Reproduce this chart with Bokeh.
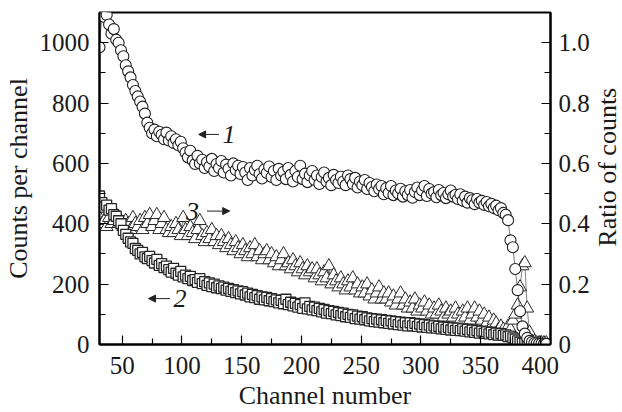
import math
from bokeh.plotting import figure
from bokeh.layouts import row
from bokeh.models import (Range1d, LinearAxis, FixedTicker, Label, Arrow, NormalHead,
                          PrintfTickFormatter)
from bokeh.core.properties import value
from bokeh.embed import file_html
from bokeh.resources import INLINE

channels = [31, 33, 35, 37, 39, 41, 43, 45, 47, 49,
            51, 53, 55, 57, 59, 61, 63, 65, 67, 69,
            71, 73, 75, 77, 79, 81, 83, 85, 87, 89,
            91, 93, 95, 97, 99, 101, 103, 105, 107, 109,
            111, 113, 115, 117, 119, 121, 123, 125, 127, 129,
            131, 133, 135, 137, 139, 141, 143, 145, 147, 149,
            151, 153, 155, 157, 159, 161, 163, 165, 167, 169,
            171, 173, 175, 177, 179, 181, 183, 185, 187, 189,
            191, 193, 195, 197, 199, 201, 203, 205, 207, 209,
            211, 213, 215, 217, 219, 221, 223, 225, 227, 229,
            231, 233, 235, 237, 239, 241, 243, 245, 247, 249,
            251, 253, 255, 257, 259, 261, 263, 265, 267, 269,
            271, 273, 275, 277, 279, 281, 283, 285, 287, 289,
            291, 293, 295, 297, 299, 301, 303, 305, 307, 309,
            311, 313, 315, 317, 319, 321, 323, 325, 327, 329,
            331, 333, 335, 337, 339, 341, 343, 345, 347, 349,
            351, 353, 355, 357, 359, 361, 363, 365, 367, 369,
            371, 373, 375, 377, 379, 381, 383, 385, 387, 389,
            391, 393, 395, 397, 399, 401, 403, 405]

counts_1 = [985, 1095, 1085, 1092, 1060, 1030, 1045, 1010, 1000, 975,
            955, 925, 905, 885, 860, 840, 822, 805, 788, 765,
            735, 718, 700, 712, 690, 705, 695, 680, 702, 676,
            690, 668, 680, 660, 672, 650, 636, 620, 642, 610,
            598, 625, 600, 612, 585, 604, 590, 615, 575, 598,
            585, 608, 570, 596, 582, 560, 600, 578, 592, 565,
            588, 570, 545, 585, 560, 578, 592, 565, 550, 580,
            568, 590, 555, 575, 545, 582, 560, 572, 548, 585,
            562, 540, 575, 555, 592, 548, 566, 538, 560, 575,
            545, 560, 532, 555, 570, 540, 552, 528, 562, 545,
            535, 556, 540, 528, 560, 548, 532, 552, 520, 540,
            528, 545, 515, 535, 522, 508, 530, 515, 525, 498,
            518, 502, 525, 495, 510, 500, 516, 490, 508, 495,
            512, 486, 505, 520, 495, 510, 525, 492, 515, 500,
            505, 488, 512, 495, 502, 485, 498, 510, 490, 496,
            482, 498, 476, 490, 470, 485, 478, 465, 482, 470,
            476, 462, 472, 458, 466, 452, 460, 445, 452, 436,
            430, 412, 345, 322, 250, 180, 110, 60, 36, 22,
            12, 8, 5, 4, 3, 3, 2, 2]

counts_2 = [492, 470, 455, 462, 445, 450, 430, 425, 410, 400,
            378, 365, 352, 340, 335, 318, 312, 300, 305, 290,
            285, 292, 278, 270, 282, 262, 268, 255, 260, 248,
            240, 252, 236, 230, 242, 224, 230, 218, 226, 212,
            215, 206, 218, 202, 208, 196, 204, 192, 200, 188,
            194, 185, 190, 180, 186, 176, 182, 172, 178, 168,
            175, 164, 170, 158, 166, 155, 162, 150, 158, 148,
            156, 145, 152, 142, 148, 138, 146, 135, 150, 132,
            140, 128, 136, 124, 132, 120, 138, 118, 126, 115,
            124, 112, 120, 108, 116, 104, 112, 102, 110, 98,
            106, 96, 104, 92, 100, 90, 98, 86, 94, 84,
            92, 82, 88, 78, 86, 76, 84, 74, 82, 72,
            80, 70, 78, 68, 76, 66, 74, 64, 72, 62,
            72, 62, 70, 60, 68, 58, 66, 57, 64, 55,
            62, 54, 60, 52, 58, 50, 57, 48, 55, 47,
            54, 46, 52, 44, 50, 42, 48, 40, 46, 38,
            44, 37, 42, 35, 40, 33, 38, 31, 36, 30,
            32, 26, 28, 22, 18, 12, 8, 5, 4, 3,
            3, 2, 2, 2, 1, 1, 1, 1]

ratio_3 = [0.42, 0.40, 0.41, 0.39, 0.42, 0.40, 0.41, 0.43, 0.40, 0.41,
           0.39, 0.41, 0.40, 0.38, 0.42, 0.40, 0.39, 0.41, 0.38, 0.42,
           0.40, 0.43, 0.39, 0.41, 0.43, 0.38, 0.40, 0.42, 0.38, 0.37,
           0.39, 0.37, 0.40, 0.38, 0.36, 0.42, 0.38, 0.36, 0.39, 0.37,
           0.35, 0.38, 0.41, 0.36, 0.34, 0.37, 0.35, 0.38, 0.34, 0.36,
           0.33, 0.36, 0.34, 0.32, 0.35, 0.33, 0.31, 0.34, 0.32, 0.30,
           0.33, 0.31, 0.29, 0.32, 0.30, 0.33, 0.29, 0.31, 0.28, 0.30,
           0.31, 0.28, 0.30, 0.27, 0.29, 0.26, 0.28, 0.30, 0.26, 0.27,
           0.25, 0.28, 0.26, 0.24, 0.27, 0.25, 0.23, 0.26, 0.24, 0.25,
           0.22, 0.25, 0.23, 0.21, 0.24, 0.22, 0.26, 0.20, 0.23, 0.21,
           0.19, 0.22, 0.20, 0.18, 0.21, 0.19, 0.22, 0.18, 0.20, 0.17,
           0.19, 0.17, 0.20, 0.16, 0.18, 0.15, 0.17, 0.19, 0.15, 0.17,
           0.15, 0.17, 0.14, 0.16, 0.13, 0.15, 0.17, 0.13, 0.15, 0.12,
           0.14, 0.12, 0.15, 0.11, 0.13, 0.12, 0.14, 0.11, 0.13, 0.10,
           0.12, 0.10, 0.13, 0.11, 0.09, 0.12, 0.10, 0.11, 0.09, 0.12,
           0.10, 0.08, 0.11, 0.09, 0.12, 0.08, 0.10, 0.12, 0.09, 0.11,
           0.08, 0.10, 0.07, 0.09, 0.06, 0.08, 0.07, 0.05, 0.06, 0.05,
           0.04, 0.06, 0.05, 0.08, 0.10, 0.13, 0.19, 0.26, 0.27, 0.12,
           0.04, 0.01, 0.01, 0.005, 0.005, 0.005, 0.005, 0.005]

x_ticks = [50, 100, 150, 200, 250, 300, 350, 400]
x_minor = [75, 125, 175, 225, 275, 325, 375]
left_ticks = [0, 200, 400, 600, 800, 1000]
left_minor = [100, 300, 500, 700, 900]
right_ticks = [0, 0.2, 0.4, 0.6, 0.8, 1.0]
right_minor = [0.1, 0.3, 0.5, 0.7, 0.9]
right_title = ["Ratio of counts"]

FONT = "Liberation Serif"
TXT = "#1a1a1a"

p = figure(width=592, height=412, output_backend="svg", toolbar_location=None,
           x_range=Range1d(31, 408.5), y_range=Range1d(0, 1100),
           min_border_left=97, min_border_right=41, min_border_top=12,
           min_border_bottom=68)
p.extra_y_ranges = {"ratio": Range1d(0, 1.1)}
p.grid.visible = False
p.outline_line_color = "black"
p.outline_line_width = 2
p.background_fill_color = "white"
p.border_fill_color = "white"

def style_axis(ax, ticks, minor):
    ax.ticker = FixedTicker(ticks=ticks, minor_ticks=minor)
    ax.axis_line_width = 2
    ax.axis_line_color = "black"
    ax.major_tick_in = 9
    ax.major_tick_out = 0
    ax.minor_tick_in = 6
    ax.minor_tick_out = 0
    ax.major_tick_line_width = 1.2
    ax.minor_tick_line_width = 1.2
    ax.major_label_text_font = FONT
    ax.major_label_text_font_size = "25px"
    ax.major_label_text_color = TXT
    ax.axis_label_text_font = FONT
    ax.axis_label_text_font_size = "26px"
    ax.axis_label_text_font_style = "normal"
    ax.axis_label_text_color = TXT

xa = p.xaxis[0]
style_axis(xa, x_ticks, x_minor)
xa.axis_label = "Channel number"
xa.major_label_standoff = 12
xa.axis_label_standoff = 4

ya = p.yaxis[0]
style_axis(ya, left_ticks, left_minor)
ya.axis_label = "Counts per channel"
ya.major_label_standoff = 10
ya.axis_label_standoff = 4

ra = LinearAxis(y_range_name="ratio")
style_axis(ra, right_ticks, right_minor)
ra.formatter = PrintfTickFormatter(format="%.1f")
ra.major_label_overrides = {0: "0"}
ra.major_label_standoff = 8
p.add_layout(ra, "right")

# series 3: ratio (triangles, right axis)
p.line(channels, ratio_3, y_range_name="ratio", line_color="#333333", line_width=0.6)
p.scatter(channels, ratio_3, y_range_name="ratio", marker="triangle", size=13,
          fill_color="white", line_color="#2a2a2a", line_width=1)

# series 2: squares
p.line(channels, counts_2, line_color="#333333", line_width=0.6)
p.scatter(channels, counts_2, marker="square", size=10,
          fill_color="white", line_color="#262626", line_width=1.3)

# series 1: circles
p.line(channels, counts_1, line_color="#222222", line_width=0.6)
p.scatter(channels, counts_1, marker="circle", size=11,
          fill_color="white", line_color="#1e1e1e", line_width=1.1)

# curve annotations
def head():
    return NormalHead(size=7, fill_color="#222222", line_color="#222222", line_width=1)

p.add_layout(Arrow(end=head(), x_start=131, y_start=696, x_end=114, y_end=696,
                   line_color="#222222", line_width=1))
p.add_layout(Label(x=134, y=696, text="1", text_font=FONT, text_font_size="26px",
                   text_font_style="italic", text_baseline="middle", text_color=TXT))

p.add_layout(Arrow(end=head(), x_start=90, y_start=152, x_end=72, y_end=152,
                   line_color="#222222", line_width=1))
p.add_layout(Label(x=93, y=152, text="2", text_font=FONT, text_font_size="26px",
                   text_font_style="italic", text_baseline="middle", text_color=TXT))

p.add_layout(Label(x=103.5, y=442, text="3", text_font=FONT, text_font_size="26px",
                   text_font_style="italic", text_baseline="middle", text_color=TXT))
p.add_layout(Arrow(end=head(), x_start=121, y_start=442, x_end=140, y_end=442,
                   line_color="#222222", line_width=1))

# right-hand axis title, reading bottom-to-top (narrow strip beside the plot)
p2 = figure(width=30, height=412, output_backend="svg", toolbar_location=None,
            x_range=Range1d(0, 1), y_range=Range1d(0, 1),
            x_axis_location=None, y_axis_location=None, min_border=0)
p2.grid.visible = False
p2.outline_line_color = None
p2.background_fill_color = "white"
p2.border_fill_color = "white"
p2.text(x=[0.5], y=[0.534], text=right_title, angle=math.pi / 2,
        text_align="center", text_baseline="middle",
        text_font=value(FONT), text_font_size="26px", text_color=TXT)

layout = row(p, p2, spacing=0)
open("out.html", "w").write(file_html(layout, INLINE))
